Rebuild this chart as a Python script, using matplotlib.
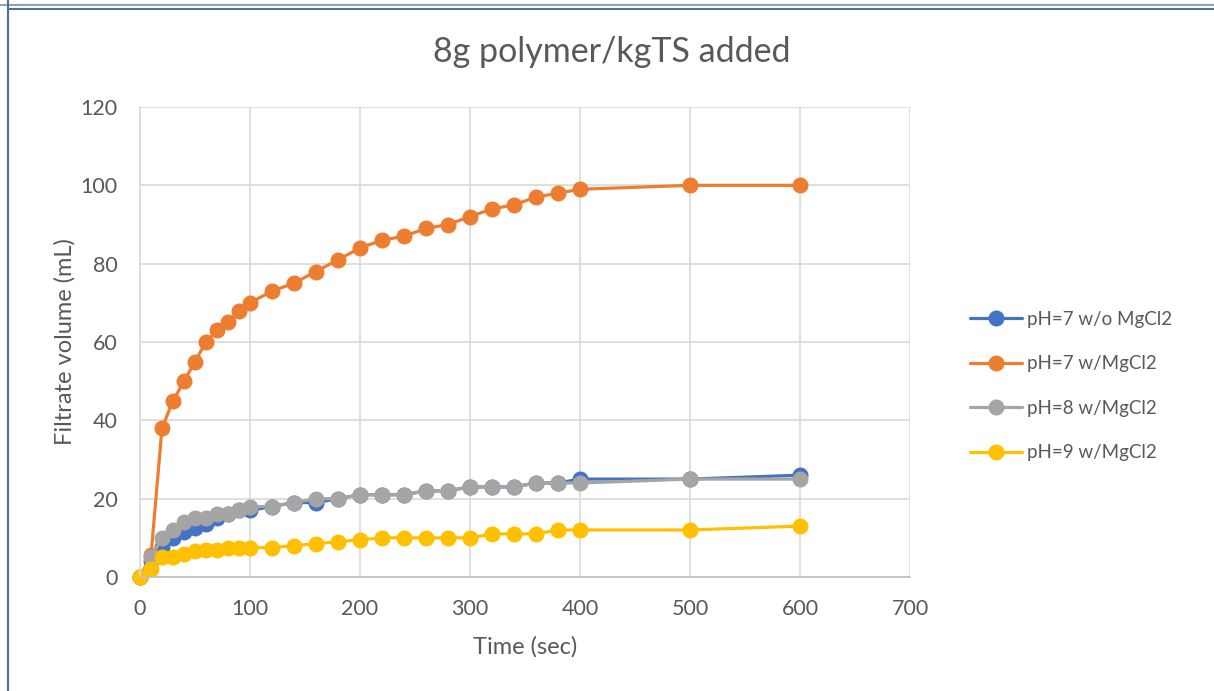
import matplotlib.pyplot as plt
from matplotlib.lines import Line2D

# time points (sec)
time = [0, 10, 20, 30, 40, 50, 60, 70, 80, 90, 100, 120, 140, 160, 180, 200,
        220, 240, 260, 280, 300, 320, 340, 360, 380, 400, 500, 600]

# filtrate volume (mL) for each condition
ph7_no_mg = [0, 4, 7.7, 10, 11.5, 12.5, 13.5, 15, 16, 17, 17, 18, 19, 19, 20, 21,
             21, 21, 22, 22, 23, 23, 23, 24, 24, 25, 25, 26]
ph7_mg = [0, 5.5, 38, 45, 50, 55, 60, 63, 65, 68, 70, 73, 75, 78, 81, 84,
          86, 87, 89, 90, 92, 94, 95, 97, 98, 99, 100, 100]
ph8_mg = [0, 5, 10, 12, 14, 15, 15, 16, 16, 17, 18, 18, 19, 20, 20, 21,
          21, 21, 22, 22, 23, 23, 23, 24, 24, 24, 25, 25]
ph9_mg = [0, 2, 5, 5, 6, 6.6, 7, 7, 7.5, 7.5, 7.5, 7.5, 8, 8.5, 9, 9.5,
          10, 10, 10, 10, 10, 11, 11, 11, 12, 12, 12, 13]

labels = ["pH=7 w/o MgCl2", "pH=7 w/MgCl2", "pH=8 w/MgCl2", "pH=9 w/MgCl2"]
colors = ["#4472C4", "#ED7D31", "#A5A5A5", "#FFC000"]

plt.rcParams['font.family'] = ['Lato', 'DejaVu Sans']
txt = "#595959"

fig = plt.figure(figsize=(12.14, 6.91), dpi=100)
ax = fig.add_axes([140/1214, 1 - 577/691, 770/1214, 470/691])

for ys, lab, c in zip([ph7_no_mg, ph7_mg, ph8_mg, ph9_mg], labels, colors):
    ax.plot(time, ys, color=c, lw=2.3, marker='o', ms=10.5, label=lab,
            solid_joinstyle='round', solid_capstyle='round', clip_on=False)

ax.set_xlim(0, 700)
ax.set_ylim(0, 120)
ax.set_xticks(range(0, 701, 100))
ax.set_yticks(range(0, 121, 20))
ax.grid(True, color="#D9D9D9", lw=1.2)
ax.set_axisbelow(True)
for s in ['top', 'right']:
    ax.spines[s].set_visible(False)
ax.spines['left'].set_color("#D9D9D9")
ax.spines['left'].set_linewidth(1.2)
ax.spines['bottom'].set_color("#BFBFBF")
ax.spines['bottom'].set_linewidth(1.2)
ax.tick_params(axis='y', length=0, labelsize=15.5, labelcolor=txt, pad=16)
ax.tick_params(axis='x', length=0, labelsize=15.5, labelcolor=txt, pad=16)

ax.set_xlabel("Time (sec)", fontsize=17, color=txt, labelpad=12)
ax.set_ylabel("Filtrate volume (mL)", fontsize=17, color=txt, labelpad=4)
fig.text(612/1214, 1 - 52/691, "8g polymer/kgTS added", fontsize=24.5,
         color=txt, ha='center', va='center')

leg = ax.legend(loc='center left', bbox_to_anchor=(962/1214, 1 - 386/691),
                bbox_transform=fig.transFigure, frameon=False, fontsize=13.5,
                handlelength=2.8, handletextpad=0.25, labelspacing=1.47,
                borderaxespad=0)
for t in leg.get_texts():
    t.set_color(txt)

# outer frame lines
frame = "#4E6F96"
fig.add_artist(Line2D([0, 1], [1 - 4.5/691] * 2, color="#8DA2BB", lw=1.5))
fig.add_artist(Line2D([7.5/1214, 1], [1 - 8.5/691] * 2, color=frame, lw=1.5))
fig.add_artist(Line2D([7.5/1214] * 2, [0, 1], color=frame, lw=1.5))

fig.savefig("out.png", dpi=100)
